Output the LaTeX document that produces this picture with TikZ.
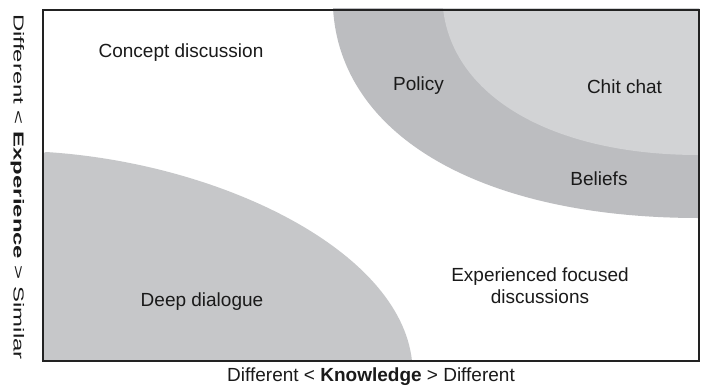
\documentclass[tikz,border=0pt]{standalone}
\usepackage{fontspec}
\setmainfont{Liberation Sans}
\definecolor{bandgray}{HTML}{BCBDC0}
\definecolor{innergray}{HTML}{D2D3D5}
\definecolor{deepgray}{HTML}{C6C7C9}
\definecolor{framecol}{HTML}{222222}
\definecolor{textcol}{HTML}{1A1A1A}
\begin{document}
\begin{tikzpicture}[x=1bp,y=-1bp,
  lbl/.style={inner sep=0pt, anchor=base, text=textcol, font=\fontsize{19bp}{21.5bp}\selectfont},
  framestyle/.style={draw=framecol, line width=1.1bp}]
\useasboundingbox (0,0) rectangle (703,385);
\fill[white] (0,0) rectangle (703,385);

% regions
\fill[bandgray] (333,8) .. controls (340,135) and (480,218) .. (699,218) -- (699,8) -- cycle;
\fill[innergray] (443,8) .. controls (452,95) and (550,155) .. (699,155) -- (699,8) -- cycle;
\fill[deepgray] (46,152) .. controls (220,163) and (400,250) .. (412,361) -- (43,361) -- (43,155) .. controls (43,153) .. (46,152) -- cycle;

% frame
\draw[framestyle] (43,10) rectangle (699,361);

% labels
\node[lbl] (concept) at (181,57) {Concept discussion};
\node[lbl] (policy) at (418.5,90) {Policy};
\node[lbl] (chit) at (624.5,93) {Chit chat};
\node[lbl] (beliefs) at (599,185) {Beliefs};
\node[lbl, align=center] (exper) at (540,303) {Experienced focused\\discussions};
\node[lbl] (deep) at (202,306.7) {Deep dialogue};

% axes
\node[lbl] (xaxis) at (371,381) {Different < \textbf{Knowledge} > Different};
\node[lbl, rotate=-90, font=\fontsize{14.5bp}{16bp}\selectfont] (yaxis) at (13.5,187)
  {\scalebox{1.65}[1]{Different < \textbf{Experience} > Similar}};
\end{tikzpicture}
\end{document}
